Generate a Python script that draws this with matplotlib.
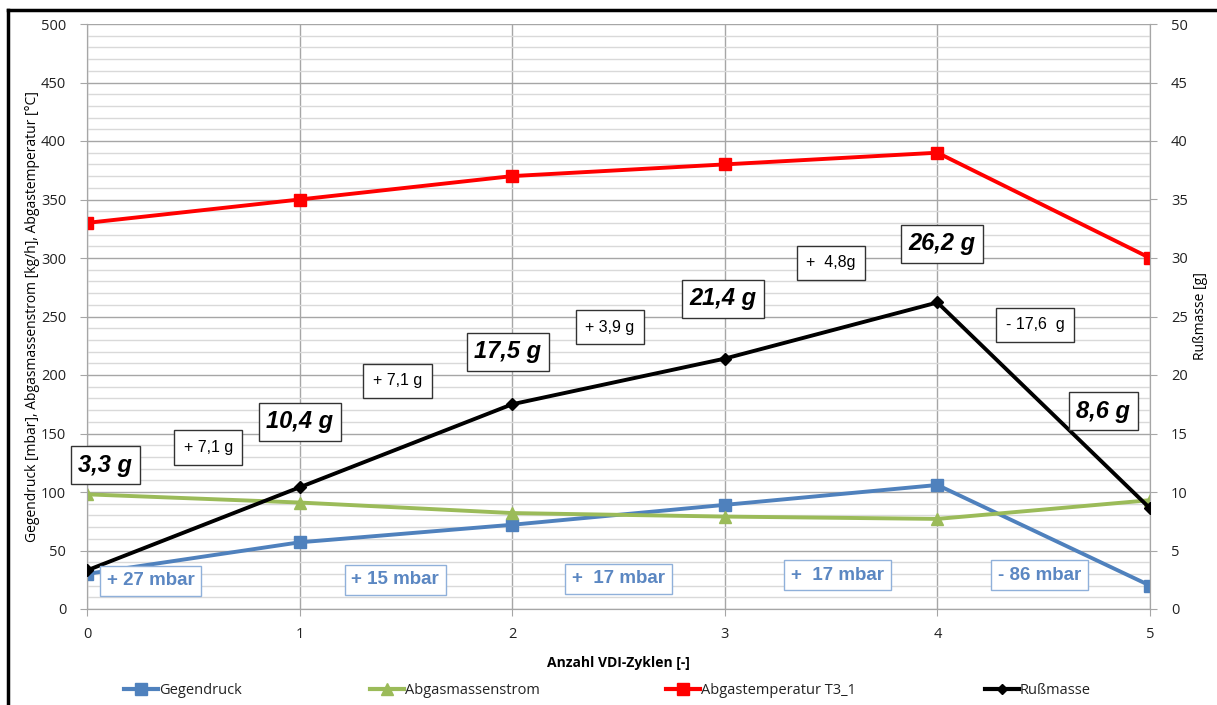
import matplotlib
matplotlib.use("Agg")
import matplotlib.pyplot as plt
from matplotlib.lines import Line2D
from matplotlib.ticker import MultipleLocator

# ---- data ----
cycles = [0, 1, 2, 3, 4, 5]
gegendruck = [30, 57, 72, 89, 106, 20]
abgasmassenstrom = [98, 91, 82, 79, 77, 93]
abgastemperatur = [330, 350, 370, 380, 390, 300]
russmasse = [3.3, 10.4, 17.5, 21.4, 26.2, 8.6]

mass_labels = ["3,3 g", "10,4 g", "17,5 g", "21,4 g", "26,2 g", "8,6 g"]
mass_label_pos = [(0.085, 123), (1.0, 160), (1.98, 220), (2.99, 265), (4.02, 312), (4.78, 169)]
delta_labels = ["+ 7,1 g", "+ 7,1 g", "+ 3,9 g", "+  4,8g", "- 17,6  g"]
delta_label_pos = [(0.57, 138), (1.46, 195), (2.46, 241), (3.50, 296), (4.46, 243)]
mbar_labels = ["+ 27 mbar", "+ 15 mbar", "+  17 mbar", "+  17 mbar", "- 86 mbar"]
mbar_label_pos = [(0.30, 24), (1.45, 25), (2.50, 26), (3.53, 29), (4.48, 29)]

C_BLUE = "#4F81BD"
C_GREEN = "#9BBB59"
C_RED = "#FF0000"
C_BLACK = "#000000"

W, H = 1217, 705
fig = plt.figure(figsize=(W / 100, H / 100), dpi=100)
plt.rcParams['font.family'] = ['Open Sans', 'DejaVu Sans']

ax = fig.add_axes([87 / W, 1 - 609 / H, (1150 - 87) / W, (609 - 24) / H])
ax2 = ax.twinx()

ax.set_xlim(0, 5)
ax.set_ylim(0, 500)
ax2.set_ylim(0, 50)

ax.yaxis.set_major_locator(MultipleLocator(50))
ax.yaxis.set_minor_locator(MultipleLocator(10))
ax.xaxis.set_major_locator(MultipleLocator(1))
ax2.yaxis.set_major_locator(MultipleLocator(5))

ax.grid(which='minor', axis='y', color='#d9d9d9', lw=1.0)
ax.grid(which='major', axis='y', color='#a6a6a6', lw=1.0)
ax.grid(which='major', axis='x', color='#a6a6a6', lw=1.0)
ax.set_axisbelow(True)

for a in (ax, ax2):
    for s in a.spines.values():
        s.set_color('#a6a6a6')
    a.spines['top'].set_visible(False)

ax.tick_params(axis='both', which='major', direction='out', length=5, color='#a6a6a6',
               labelsize=10.5, labelcolor='#222222')
ax.tick_params(axis='y', which='minor', length=0)
ax.tick_params(axis='y', pad=10)
ax.tick_params(axis='x', pad=8)
ax2.tick_params(axis='y', direction='out', length=5, color='#a6a6a6', labelsize=10.5,
                labelcolor='#222222', pad=10)

ax.plot(cycles, gegendruck, color=C_BLUE, lw=2.8, marker='s', ms=9, label='Gegendruck', zorder=3)
ax.plot(cycles, abgasmassenstrom, color=C_GREEN, lw=2.8, marker='^', ms=9, label='Abgasmassenstrom', zorder=3)
ax.plot(cycles, abgastemperatur, color=C_RED, lw=2.8, marker='s', ms=9, label='Abgastemperatur T3_1', zorder=3)
ax2.plot(cycles, russmasse, color=C_BLACK, lw=2.8, marker='D', ms=6.5, label='Rußmasse', zorder=3)

ax.set_xlabel('Anzahl VDI-Zyklen [-]', fontsize=10, fontweight='bold', labelpad=10)
ax.set_ylabel('Gegendruck [mbar], Abgasmassenstrom [kg/h], Abgastemperatur [°C]', fontsize=10, labelpad=1)
ax2.set_ylabel('Rußmasse [g]', fontsize=10, labelpad=4)

tr = ax.transData
for txt, (x, y) in zip(mass_labels, mass_label_pos):
    ax2.text(x, y, txt, transform=tr, ha='center', va='center', fontsize=17,
             fontweight='bold', fontstyle='italic', family='Liberation Sans', zorder=5,
             bbox=dict(boxstyle='square,pad=0.32', fc='white', ec='#333333', lw=1))
for txt, (x, y) in zip(delta_labels, delta_label_pos):
    ax2.text(x, y, txt, transform=tr, ha='center', va='center', fontsize=11.5,
             family='Liberation Sans', zorder=5,
             bbox=dict(boxstyle='square,pad=0.6', fc='white', ec='#333333', lw=1))
for txt, (x, y) in zip(mbar_labels, mbar_label_pos):
    ax2.text(x, y, txt, transform=tr, ha='center', va='center', fontsize=13.5,
             fontweight='bold', color='#5B87C2', family='Liberation Sans', zorder=5,
             bbox=dict(boxstyle='square,pad=0.35', fc='white', ec='#8fb0da', lw=1))

# legend: four separate entries
handles = [
    Line2D([], [], color=C_BLUE, lw=3, marker='s', ms=8),
    Line2D([], [], color=C_GREEN, lw=3, marker='^', ms=8),
    Line2D([], [], color=C_RED, lw=3, marker='s', ms=8),
    Line2D([], [], color=C_BLACK, lw=3, marker='D', ms=5),
]
names = ['Gegendruck', 'Abgasmassenstrom', 'Abgastemperatur T3_1', 'Rußmasse']
xs = [124, 370, 666, 985]
for h, n, x in zip(handles, names, xs):
    lg = fig.legend([h], [n], loc='center left', bbox_to_anchor=(x / W, 1 - 691 / H),
                    frameon=False, fontsize=10.5, handlelength=2.3, handletextpad=0.1,
                    borderpad=0, borderaxespad=0)
    for t in lg.get_texts():
        t.set_color('#222222')

# outer frame lines (left and top)
fig.add_artist(Line2D([8 / W, 8 / W], [0, 1 - 10 / H], transform=fig.transFigure, color='black', lw=2.5))
fig.add_artist(Line2D([8 / W, 1], [1 - 10 / H, 1 - 10 / H], transform=fig.transFigure, color='black', lw=2.5))

fig.savefig('out.png', dpi=100)
